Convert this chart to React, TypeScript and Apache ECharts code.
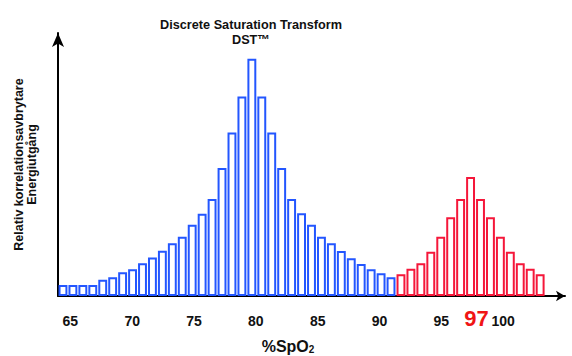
import React, { useEffect, useRef } from "react";
import * as echarts from "echarts";

const titleText = "Discrete Saturation Transform\nDST™";
const yName = "Relativ korrelationsavbrytare\nEnergiutgång";
const xNameMain = "%SpO";
const xNameSub = "2";

// relative energy output per bin (blue: broad distribution, red: DST peak)
const blueValues = [
  4.6, 4.6, 4.6, 4.6, 6.8, 7.9, 10, 11.3, 13.8, 16.2, 19.1, 22.2, 25, 30, 34.6,
  40.9, 53.9, 68.9, 84.1, 100, 84.1, 68.9, 53.9, 40.9, 34.9, 30, 25, 22.2, 19,
  15.9, 13.5, 11.3, 9.6, 7.9,
];
const redValues = [
  9.2, 11.5, 13.8, 18.6, 25, 33.2, 40.9, 50.1, 40.9, 33.2, 25, 18.6, 13.8, 11.5,
  9.2,
];
const emptyBins = 2;

const tickValues = [65, 70, 75, 80, 85, 90, 95, 100];
const peakLabel = "97";

const BLUE = "#2356ff";
const RED = "#f5173a";
const FONT = "'Liberation Sans', Arial, sans-serif";

export default function App() {
  const ref = useRef<HTMLDivElement>(null);

  useEffect(() => {
    if (!ref.current) return;
    const chart = echarts.init(ref.current, null, { renderer: "svg" });

    const total = blueValues.length + redValues.length + emptyBins;
    const bins = Array.from({ length: total }, (_, i) => String(i + 1));
    const blueData = bins.map((_, i) => (i < blueValues.length ? blueValues[i] : "-"));
    const redMax = Math.max(...redValues);
    const redData = bins.map((_, i) => {
      const j = i - blueValues.length;
      if (j < 0 || j >= redValues.length) return "-";
      const v = redValues[j];
      if (v === redMax && j === redValues.indexOf(redMax)) {
        return {
          value: v,
          label: {
            show: true,
            position: "bottom",
            distance: 11,
            offset: [6, 0],
            formatter: peakLabel,
            color: "#f01515",
            fontSize: 22,
            fontWeight: "bold",
            fontFamily: FONT,
          },
        };
      }
      return v;
    });

    chart.setOption({
      animation: false,
      textStyle: { fontFamily: FONT },
      title: {
        text: titleText,
        left: 246,
        top: 12,
        textAlign: "center",
        textStyle: {
          fontSize: 12.7,
          fontWeight: "bold",
          color: "#111",
          lineHeight: 15,
          fontFamily: FONT,
        },
      },
      grid: {
        left: 58,
        top: 33,
        width: 507,
        bottom: 60,
        containLabel: false,
        outerBoundsMode: "none",
      },
      xAxis: [
        {
          type: "category",
          data: bins,
          position: "bottom",
          axisLine: {
            show: true,
            symbol: ["none", "arrow"],
            symbolSize: [8, 9],
            lineStyle: { color: "#000", width: 2 },
          },
          axisTick: { show: false },
          axisLabel: { show: false },
          splitLine: { show: false },
          name: `{a|${xNameMain}}{b|${xNameSub}}`,
          nameLocation: "middle",
          nameGap: 42,
          nameTextStyle: {
            padding: [0, 47, 0, 0],
            rich: {
              a: { fontSize: 16, fontWeight: "bold", color: "#111", fontFamily: FONT, lineHeight: 17 },
              b: { fontSize: 10, fontWeight: "bold", color: "#111", fontFamily: FONT, lineHeight: 17, padding: [6, 0, 0, 0] },
            },
          },
        },
        {
          type: "value",
          min: 64,
          max: 105,
          position: "bottom",
          axisLine: { show: false },
          axisTick: { show: false },
          splitLine: { show: false },
          axisLabel: {
            customValues: tickValues,
            margin: 18,
            fontSize: 14,
            fontWeight: "bold",
            color: "#111",
            fontFamily: FONT,
          },
        },
      ],
      yAxis: {
        type: "value",
        min: 0,
        max: 110.8,
        axisLine: {
          show: true,
          symbol: ["none", "arrow"],
          symbolSize: [9, 14],
          lineStyle: { color: "#000", width: 2 },
        },
        axisTick: { show: false },
        axisLabel: { show: false },
        splitLine: { show: false },
        name: yName,
        nameLocation: "middle",
        nameRotate: 90,
        nameGap: 20,
        nameTextStyle: {
          fontSize: 12.5,
          fontWeight: "bold",
          color: "#111",
          lineHeight: 13,
          align: "center",
          fontFamily: FONT,
        },
      },
      series: [
        {
          type: "bar",
          xAxisIndex: 0,
          data: blueData,
          barWidth: 8.9,
          barGap: "-100%",
          itemStyle: { color: "#fff", borderColor: BLUE, borderWidth: 2 },
        },
        {
          type: "bar",
          xAxisIndex: 0,
          data: redData,
          barWidth: 8.9,
          barGap: "-100%",
          itemStyle: { color: "#fff", borderColor: RED, borderWidth: 2 },
        },
      ],
    });

    return () => chart.dispose();
  }, []);

  return (
    <div
      ref={ref}
      style={{ position: "fixed", left: 0, top: 0, width: 572, height: 356, background: "#fff" }}
    />
  );
}
